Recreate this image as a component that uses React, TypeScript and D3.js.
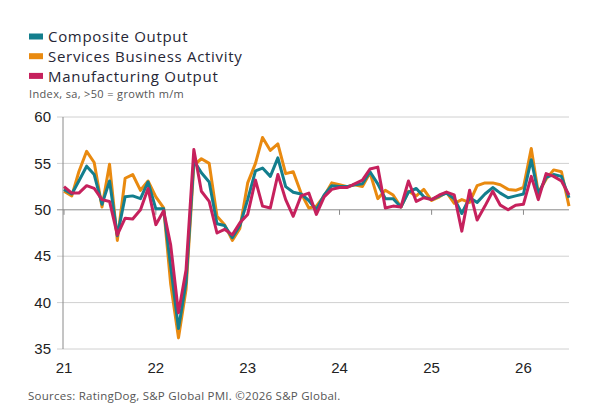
import React from "react";
import * as d3 from "d3";

const startMonth = new Date(2021, 0, 1);

const composite = [
  52.2, 51.7, 53.1, 54.7, 53.8, 50.6, 53.1, 47.2, 51.4, 51.5, 51.2, 53.0,
  50.1, 50.1, 43.9, 37.2, 42.2, 55.3, 54.0, 53.0, 48.5, 48.3, 47.0, 48.3,
  51.1, 54.2, 54.5, 53.6, 55.6, 52.5, 51.9, 51.7, 51.0, 50.0, 51.6, 52.6,
  52.5, 52.5, 52.7, 52.8, 54.1, 52.8, 51.2, 51.2, 50.3, 51.9, 52.3, 51.4,
  51.1, 51.5, 51.8, 51.2, 49.6, 51.3, 50.8, 51.7, 52.4, 51.8, 51.3, 51.5,
  51.7, 55.4, 51.7, 53.5, 53.8, 53.6, 51.3,
];

const services = [
  52.0, 51.5, 54.1, 56.3, 55.1, 50.3, 54.9, 46.7, 53.4, 53.8, 52.1, 53.1,
  51.4, 50.2, 42.0, 36.2, 41.4, 54.8, 55.5, 55.0, 49.3, 48.4, 46.7, 48.0,
  52.9, 55.0, 57.8, 56.4, 57.1, 53.9, 54.1, 51.8, 50.2, 50.4, 51.5, 52.9,
  52.7, 52.5, 52.7, 52.5, 54.0, 51.2, 52.1, 51.6, 50.3, 52.0, 51.5, 52.2,
  51.0, 51.4, 51.9, 50.7, 51.1, 50.8, 52.6, 52.9, 52.9, 52.7, 52.2, 52.1,
  52.4, 56.6, 51.8, 53.3, 54.3, 54.1, 50.4,
];

const manufacturing = [
  52.5, 51.8, 51.8, 52.6, 52.3, 51.1, 50.9, 47.3, 49.1, 49.0, 50.0, 52.3,
  48.4, 49.9, 46.2, 38.9, 43.5, 56.5, 52.0, 50.9, 47.5, 47.9, 47.3, 48.6,
  49.5, 53.2, 50.4, 50.2, 53.8, 51.1, 49.3, 51.5, 51.8, 49.5, 51.4, 52.2,
  52.4, 52.4, 52.8, 53.2, 54.4, 54.6, 50.2, 50.4, 50.3, 53.1, 50.9, 51.3,
  51.1, 51.6, 51.9, 51.6, 47.7, 52.1, 48.9, 50.4, 52.0, 50.5, 50.0, 50.5,
  50.6, 53.6, 51.1, 53.9, 53.6, 53.1, 51.6,
];

const seriesNames = ["Composite Output", "Services Business Activity", "Manufacturing Output"];
const seriesColors = ["#137e8d", "#e98a10", "#c6215d"];
const yTicks = [35, 40, 45, 50, 55, 60];
const xTickYears = [2021, 2022, 2023, 2024, 2025, 2026];
const subtitle = "Index, sa, >50 = growth m/m";
const footer = "Sources: RatingDog, S&P Global PMI. \u00a92026 S&P Global.";

export default function App() {
  const W = 600;
  const H = 420;
  const months = composite.map((_, i) => d3.timeMonth.offset(startMonth, i));
  const x = d3
    .scaleTime()
    .domain([months[0], months[months.length - 1]])
    .range([64, 569]);
  const y = d3.scaleLinear().domain([35, 60]).range([349, 117]);
  const line = d3
    .line<number>()
    .x((_, i) => x(months[i]))
    .y((d) => y(d));

  const allSeries = [composite, services, manufacturing];
  const drawOrder = [1, 0, 2];
  const legendFont = "'Open Sans', 'Noto Sans', sans-serif";
  const axisFont = "'Liberation Sans', Arial, sans-serif";

  return (
    <svg
      width={W}
      height={H}
      style={{ position: "absolute", left: 0, top: 0, background: "#fff" }}
    >
      {/* legend */}
      {seriesNames.map((name, i) => (
        <g key={name}>
          <rect x={29} y={33.5 + i * 19.7} width={14} height={6} fill={seriesColors[i]} />
          <text
            x={48}
            y={42.3 + i * 19.7}
            fontFamily={legendFont}
            fontSize={15}
            letterSpacing={0.7}
            fill="#262635"
          >
            {name}
          </text>
        </g>
      ))}
      <text
        x={29}
        y={97.5}
        fontFamily={legendFont}
        fontSize={11}
        letterSpacing={0.35}
        fill="#555"
      >
        {subtitle}
      </text>

      {/* gridlines */}
      {yTicks.map((t) => (
        <g key={t}>
          <line
            x1={57}
            x2={569}
            y1={y(t)}
            y2={y(t)}
            stroke={t === 50 ? "#8a8a8a" : "#d0d0d0"}
            strokeWidth={1}
          />
          <text
            x={51}
            y={y(t)}
            dy="0.35em"
            textAnchor="end"
            fontFamily={axisFont}
            fontSize={15}
            fill="#222"
          >
            {t}
          </text>
        </g>
      ))}
      <line x1={63} x2={63} y1={y(60)} y2={y(35)} stroke="#8a8a8a" strokeWidth={1} />
      {xTickYears.map((yr) => {
        const px = x(new Date(yr, 0, 1));
        return (
          <g key={yr}>
            <line x1={px} x2={px} y1={y(50)} y2={y(50) + 5} stroke="#8a8a8a" strokeWidth={1} />
            <text
              x={px}
              y={373}
              textAnchor="middle"
              fontFamily={axisFont}
              fontSize={15}
              fill="#222"
            >
              {String(yr).slice(2)}
            </text>
          </g>
        );
      })}

      {/* lines */}
      {drawOrder.map((si) => (
        <path
          key={si}
          d={line(allSeries[si]) || ""}
          fill="none"
          stroke={seriesColors[si]}
          strokeWidth={3}
          strokeLinejoin="round"
        />
      ))}

      <text
        x={28}
        y={400}
        fontFamily={legendFont}
        fontSize={11.5}
        letterSpacing={0.25}
        fill="#555"
      >
        {footer}
      </text>
    </svg>
  );
}
